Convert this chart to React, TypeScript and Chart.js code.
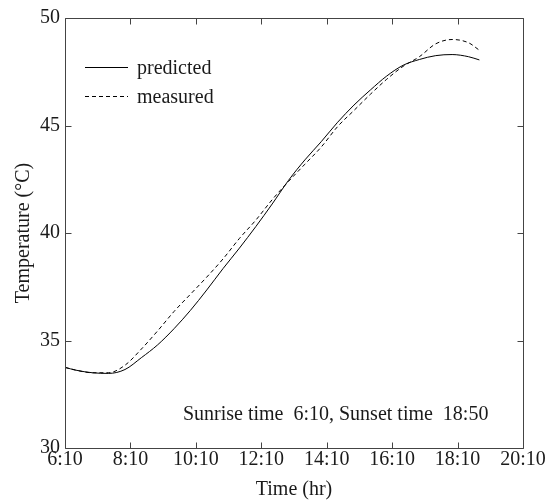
import React, { useEffect, useRef } from "react";
import { Chart, registerables } from "chart.js";

Chart.register(...registerables);

// ---- data ----
const timeLabels = [
  "6:10", "6:30", "7:00", "7:30", "8:00", "8:30", "9:00", "9:30", "10:00",
  "10:30", "11:00", "11:30", "12:00", "12:30", "13:00", "13:30", "14:00",
  "14:30", "15:00", "15:30", "16:00", "16:30", "17:00", "17:30", "18:00",
  "18:30", "18:50",
];
const predicted = [
  33.75, 33.62, 33.5, 33.47, 33.65, 34.2, 34.8, 35.55, 36.4, 37.35, 38.35,
  39.3, 40.3, 41.35, 42.45, 43.4, 44.25, 45.15, 45.95, 46.65, 47.3, 47.8,
  48.07, 48.25, 48.3, 48.2, 48.05,
];
const measured = [
  33.75, 33.62, 33.5, 33.5, 33.85, 34.6, 35.45, 36.35, 37.15, 37.95, 38.8,
  39.75, 40.6, 41.55, 42.4, 43.2, 44.0, 44.95, 45.7, 46.45, 47.15, 47.75,
  48.2, 48.8, 49.0, 48.85, 48.5,
];
const xTickLabels = ["6:10", "8:10", "10:10", "12:10", "14:10", "16:10", "18:10", "20:10"];
const yTickValues = [30, 35, 40, 45, 50];
const seriesNames = ["predicted", "measured"];
const annotationText = "Sunrise time  6:10, Sunset time  18:50";
const xTitle = "Time (hr)";
const yTitle = "Temperature (\u00B0C)";

const toHours = (s: string) => {
  const [h, m] = s.split(":").map(Number);
  return h + m / 60;
};

const FONT = "'Liberation Serif', 'Times New Roman', serif";
const AXIS_COLOR = "#444";
const TEXT_COLOR = "#1a1a1a";

const framePlugin = {
  id: "frame",
  afterDraw(chart: any) {
    const { ctx, chartArea: a, scales } = chart;
    const x = scales.x;
    const y = scales.y;
    ctx.save();
    ctx.strokeStyle = AXIS_COLOR;
    ctx.lineWidth = 1;
    const L = Math.round(a.left) + 0.5;
    const R = Math.round(a.right) + 0.5;
    const T = Math.round(a.top) + 0.5;
    const B = Math.round(a.bottom) + 0.5;
    ctx.beginPath();
    ctx.rect(L, T, R - L, B - T);
    ctx.stroke();
    const tl = 6;
    ctx.beginPath();
    xTickLabels.forEach((lab) => {
      const px = Math.round(x.getPixelForValue(toHours(lab))) + 0.5;
      ctx.moveTo(px, B);
      ctx.lineTo(px, B - tl);
      ctx.moveTo(px, T);
      ctx.lineTo(px, T + tl);
    });
    yTickValues.forEach((v) => {
      const py = Math.round(y.getPixelForValue(v)) + 0.5;
      ctx.moveTo(L, py);
      ctx.lineTo(L + tl, py);
      ctx.moveTo(R, py);
      ctx.lineTo(R - tl, py);
    });
    ctx.stroke();

    // legend
    ctx.font = `20px ${FONT}`;
    ctx.fillStyle = TEXT_COLOR;
    ctx.textBaseline = "middle";
    ctx.textAlign = "left";
    chart.data.datasets.forEach((ds: any, i: number) => {
      const ly = Math.round(a.top + 49 + i * 29) + 0.5;
      ctx.save();
      ctx.strokeStyle = ds.borderColor;
      ctx.lineWidth = 1;
      ctx.setLineDash(ds.borderDash || []);
      ctx.beginPath();
      ctx.moveTo(a.left + 20, ly);
      ctx.lineTo(a.left + 63, ly);
      ctx.stroke();
      ctx.restore();
      ctx.fillText(ds.label, a.left + 72, ly + 1);
    });

    // annotation
    ctx.fillText(annotationText, x.getPixelForValue(9.77), y.getPixelForValue(31.55));
    ctx.restore();
  },
};

export default function App() {
  const ref = useRef<HTMLCanvasElement | null>(null);
  useEffect(() => {
    if (!ref.current) return;
    const xs = timeLabels.map(toHours);
    const chart = new Chart(ref.current, {
      type: "line",
      data: {
        datasets: [
          {
            label: seriesNames[0],
            data: xs.map((h, i) => ({ x: h, y: predicted[i] })),
            borderColor: "#000",
            borderWidth: 1,
            pointRadius: 0,
            cubicInterpolationMode: "monotone",
          },
          {
            label: seriesNames[1],
            data: xs.map((h, i) => ({ x: h, y: measured[i] })),
            borderColor: "#000",
            borderWidth: 1,
            borderDash: [4, 3],
            pointRadius: 0,
            cubicInterpolationMode: "monotone",
          },
        ],
      },
      options: {
        animation: false,
        responsive: false,
        layout: { padding: { left: 0, top: 18, right: 29, bottom: 0 } },
        plugins: { legend: { display: false }, tooltip: { enabled: false } },
        scales: {
          x: {
            type: "linear",
            min: toHours(xTickLabels[0]),
            max: toHours(xTickLabels[xTickLabels.length - 1]),
            afterBuildTicks: (s: any) => {
              s.ticks = xTickLabels.map((l) => ({ value: toHours(l) }));
            },
            afterFit: (s: any) => {
              s.height = 53;
            },
            grid: { display: false, drawTicks: false },
            border: { display: false },
            ticks: {
              padding: 0,
              color: TEXT_COLOR,
              font: { family: FONT, size: 20 },
              maxRotation: 0,
              autoSkip: false,
              callback: (_v: any, i: number) => xTickLabels[i],
            },
            title: {
              display: true,
              text: xTitle,
              color: TEXT_COLOR,
              font: { family: FONT, size: 20 },
              padding: { top: 0, bottom: -1 },
            },
          },
          y: {
            min: 30,
            max: 50,
            afterBuildTicks: (s: any) => {
              s.ticks = yTickValues.map((v) => ({ value: v }));
            },
            afterFit: (s: any) => {
              s.width = 65;
            },
            grid: { display: false, drawTicks: false },
            border: { display: false },
            ticks: {
              padding: 5,
              color: TEXT_COLOR,
              font: { family: FONT, size: 20 },
            },
            title: {
              display: true,
              text: yTitle,
              color: TEXT_COLOR,
              font: { family: FONT, size: 20 },
              padding: { top: 12, bottom: 0 },
            },
          },
        },
      },
      plugins: [framePlugin],
    } as any);
    return () => chart.destroy();
  }, []);
  return (
    <div style={{ position: "absolute", left: 0, top: 0, width: 552, height: 501, background: "#fff" }}>
      <canvas ref={ref} width={552} height={501} style={{ width: 552, height: 501 }} />
    </div>
  );
}
